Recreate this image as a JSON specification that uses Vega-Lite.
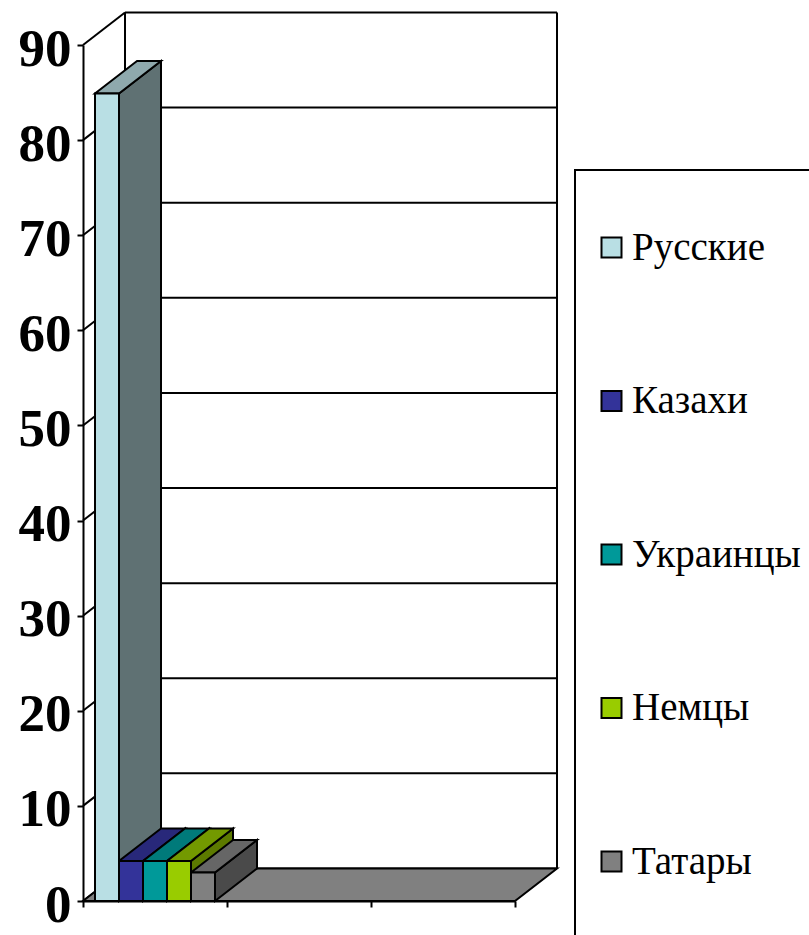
{
"$schema":"https://vega.github.io/schema/vega-lite/v6.json",
"autosize":{"type":"none"},
"width":432,"height":856,
"padding":{"left":83,"top":45,"right":294,"bottom":34},
"background":"white",
"config":{"view":{"stroke":null}},
"datasets":{
"bars":[{"label":"Русские","value":84.9},{"label":"Казахи","value":4.2},{"label":"Украинцы","value":4.2},{"label":"Немцы","value":4.2},{"label":"Татары","value":3.0}],
"ticks":[{"tick":0},{"tick":10},{"tick":20},{"tick":30},{"tick":40},{"tick":50},{"tick":60},{"tick":70},{"tick":80},{"tick":90}],
"one":[{"t":0},{"t":1}]
},
"resolve":{"scale":{"fill":"independent"},"axis":{"x":"independent","y":"independent"}},
"layer":[
{"data":{"name":"ticks"},
 "transform":[{"calculate":"0.2917","as":"dx"},{"calculate":"3+0.2917","as":"dx2"},{"calculate":"datum.tick+3.42","as":"ty"}],
 "mark":{"type":"rule","stroke":"black","strokeWidth":2},
 "encoding":{
  "x":{"field":"dx","type":"quantitative","scale":{"domain":[0,3],"nice":false,"zero":false},
   "axis":{"title":null,"values":[0,1,2,3],"labels":false,"grid":false,"tickColor":"black","tickWidth":2,"tickSize":6,"domainColor":"black","domainWidth":2}},
  "x2":{"field":"dx2"},
  "y":{"field":"ty","type":"quantitative","scale":{"domain":[0,90],"nice":false,"zero":false},
   "axis":{"title":null,"values":[0,10,20,30,40,50,60,70,80,90],"grid":false,"tickColor":"black","tickWidth":2,"tickSize":6,"domainColor":"black","domainWidth":2,"labelFont":"Liberation Serif","labelFontWeight":"bold","labelFontSize":53,"labelColor":"black","labelPadding":6,"labelOffset":4,"labelOverlap":false,"labelFlush":false,"labelBound":false}}
 }},
{"data":{"values":[{"a":0.2917,"b":0,"c":90}]},
 "transform":[{"calculate":"datum.b+3.42","as":"y1"},{"calculate":"datum.c+3.42","as":"yt"},{"calculate":"3+datum.a","as":"r"}],
 "layer":[
  {"mark":{"type":"rule","stroke":"black","strokeWidth":2},"encoding":{"x":{"field":"a","type":"quantitative","axis":null},"y":{"field":"y1","type":"quantitative","axis":null},"y2":{"field":"yt"}}},
  {"mark":{"type":"rule","stroke":"black","strokeWidth":2},"encoding":{"x":{"field":"r","type":"quantitative","axis":null},"y":{"field":"y1","type":"quantitative","axis":null},"y2":{"field":"yt"}}}
 ]},
{"data":{"name":"ticks"},
 "transform":[{"calculate":"0","as":"x0"},{"calculate":"0.2917","as":"x1"},{"calculate":"datum.tick+3.42","as":"ty"}],
 "mark":{"type":"rule","stroke":"black","strokeWidth":2},
 "encoding":{"x":{"field":"x0","type":"quantitative","axis":null},"x2":{"field":"x1"},"y":{"field":"tick","type":"quantitative","axis":null},"y2":{"field":"ty"}}},
{"data":{"name":"one"},
 "transform":[{"calculate":"datum.t*3.42","as":"fy"},{"calculate":"datum.t*0.2917","as":"fx"},{"calculate":"3+datum.t*0.2917","as":"fx2"}],
 "mark":{"type":"area","orient":"horizontal","fill":"#808080","stroke":"black","strokeWidth":2},
 "encoding":{"y":{"field":"fy","type":"quantitative","axis":null,"stack":null},"x":{"field":"fx","type":"quantitative","axis":null,"stack":null},"x2":{"field":"fx2"}}},
{"data":{"name":"bars"},
 "transform":[{"window":[{"op":"row_number","as":"n"}]},{"calculate":"1/12+(datum.n-1)/6","as":"x0"},{"calculate":"datum.x0+1/6","as":"x1"},{"calculate":"[0,1]","as":"ts"},{"flatten":["ts"],"as":["t"]},
  {"calculate":"datum.x1+datum.t*0.2917","as":"sx"},{"calculate":"datum.t*3.42","as":"sy"},{"calculate":"datum.value+datum.t*3.42","as":"sy2"}],
 "mark":{"type":"area","stroke":"black","strokeWidth":2},
 "encoding":{"x":{"field":"sx","type":"quantitative","axis":null,"stack":null},"y":{"field":"sy","type":"quantitative","axis":null,"stack":null},"y2":{"field":"sy2"},
  "fill":{"field":"label","type":"nominal","legend":null,"sort":null,"scale":{"domain":["Русские","Казахи","Украинцы","Немцы","Татары"],"range":["#5F7173","#1F1F5C","#006363","#5C7A00","#4A4A4A"]}}}},
{"data":{"name":"bars"},
 "transform":[{"window":[{"op":"row_number","as":"n"}]},{"calculate":"1/12+(datum.n-1)/6","as":"x0"},{"calculate":"datum.x0+1/6","as":"x1"},{"calculate":"[0,1]","as":"ts"},{"flatten":["ts"],"as":["t"]},
  {"calculate":"datum.x0+datum.t*0.2917","as":"tx"},{"calculate":"datum.x1+datum.t*0.2917","as":"tx2"},{"calculate":"datum.value+datum.t*3.42","as":"ty"}],
 "mark":{"type":"area","orient":"horizontal","stroke":"black","strokeWidth":2},
 "encoding":{"x":{"field":"tx","type":"quantitative","axis":null,"stack":null},"x2":{"field":"tx2"},"y":{"field":"ty","type":"quantitative","axis":null,"stack":null},
  "fill":{"field":"label","type":"nominal","legend":null,"sort":null,"scale":{"domain":["Русские","Казахи","Украинцы","Немцы","Татары"],"range":["#8FA9AD","#28287A","#007A7A","#739900","#666666"]}}}},
{"data":{"name":"bars"},
 "transform":[{"window":[{"op":"row_number","as":"n"}]},{"calculate":"1/12+(datum.n-1)/6","as":"x0"},{"calculate":"datum.x0+1/6","as":"x1"},{"calculate":"0","as":"base"}],
 "mark":{"type":"rect","stroke":"black","strokeWidth":2},
 "encoding":{"x":{"field":"x0","type":"quantitative","axis":null},"x2":{"field":"x1"},"y":{"field":"base","type":"quantitative","axis":null},"y2":{"field":"value"},
  "fill":{"field":"label","type":"nominal","sort":null,"scale":{"domain":["Русские","Казахи","Украинцы","Немцы","Татары"],"range":["#B9DFE4","#333399","#009999","#99CC00","#808080"]},
   "legend":{"title":null,"orient":"none","legendX":492,"legendY":125,"padding":58,"strokeColor":"black","symbolType":"square","symbolSize":400,"symbolStrokeColor":"black","symbolStrokeWidth":2,"symbolOffset":-41,"labelOffset":1,"labelFont":"Liberation Serif","labelFontSize":39,"labelColor":"black","labelLimit":400,"rowPadding":113.5,"columns":1,"encode":{"legend":{"update":{"strokeWidth":{"value":2}}}}}}}}
]
}
